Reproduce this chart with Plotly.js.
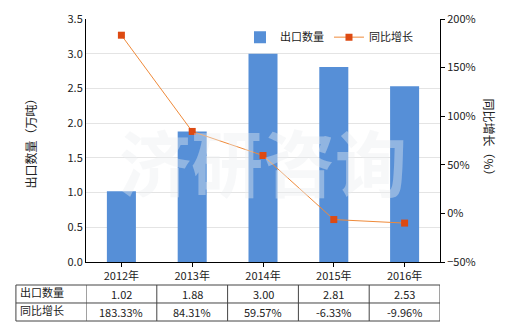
<!DOCTYPE html>
<html><head><meta charset="utf-8">
<script src="https://cdn.plot.ly/plotly-3.0.1.min.js"></script>
<style>html,body{margin:0;padding:0;background:#fff}#c{width:520px;height:330px}</style>
</head><body><div id="c"></div>
<script>
const categories = ['2012年','2013年','2014年','2015年','2016年'];
const exportQty = [1.02, 1.88, 3.00, 2.81, 2.53];
const growth = [183.33, 84.31, 59.57, -6.33, -9.96];
const qtyLabels = ['1.02','1.88','3.00','2.81','2.53'];
const growthLabels = ['183.33%','84.31%','59.57%','-6.33%','-9.96%'];
const rowNames = ['出口数量','同比增长'];

const F = '"Noto Sans CJK SC", "Noto Sans", sans-serif';
const idx = categories.map((c,i)=>i);

const traces = [
  {type:'bar', x:idx, y:exportQty, name:'出口数量', marker:{color:'#568fd7'}, width:0.41, yaxis:'y'},
  {type:'scatter', mode:'lines+markers', x:idx, y:growth, name:'同比增长', yaxis:'y2',
   line:{color:'#ef8a3a', width:1}, marker:{symbol:'square', size:7, color:'#dd4a12'}}
];

const rowY = [-0.0947, -0.1687, -0.2428];
const shapes = [];
const lineStyle = {color:'#444', width:1};
rowY.forEach(y=>shapes.push({type:'line', xref:'paper', yref:'paper', x0:-0.198, x1:1, y0:y, y1:y, line:lineStyle}));
shapes.push({type:'line', xref:'paper', yref:'paper', x0:-0.198, x1:-0.198, y0:rowY[0], y1:rowY[2], line:lineStyle});
for (let i=0;i<=categories.length;i++){
  shapes.push({type:'line', xref:'x', yref:'paper', x0:i-0.5, x1:i-0.5, y0:rowY[0], y1:rowY[2], line:lineStyle});
}

const ann = [];
const tf = {family:F, size:11, color:'#222'};
const base = {showarrow:false, xanchor:'center', yanchor:'middle'};
qtyLabels.forEach((t,i)=>ann.push(Object.assign({}, base, {xref:'x', yref:'paper', x:i, y:(rowY[0]+rowY[1])/2, text:t, font:tf})));
growthLabels.forEach((t,i)=>ann.push(Object.assign({}, base, {xref:'x', yref:'paper', x:i, y:(rowY[1]+rowY[2])/2, text:t, font:tf})));
rowNames.forEach((t,r)=>ann.push(Object.assign({}, base, {xref:'paper', yref:'paper', x:-0.192, xanchor:'left', y:(rowY[r]+rowY[r+1])/2+0.008, text:t, font:tf})));
ann.push(Object.assign({}, base, {xref:'paper', yref:'paper', x:-0.158, y:0.5, text:'出口数量（万吨）', textangle:-90, font:{family:F, size:12, color:'#222'}}));
ann.push(Object.assign({}, base, {xref:'paper', yref:'paper', x:1.141, y:0.5, text:'同比增长（%）', textangle:90, font:{family:F, size:12, color:'#222'}}));
ann.push(Object.assign({}, base, {xref:'paper', yref:'paper', x:0.5, y:0.42, text:'<b>济研咨询</b>', font:{family:F, size:72, color:'rgba(236,238,240,0.4)'}}));

const layout = {
  width:520, height:330,
  margin:{l:86, r:80, t:19, b:68},
  paper_bgcolor:'#fff', plot_bgcolor:'#fff',
  font:{family:F, size:11, color:'#222'},
  showlegend:true,
  legend:{orientation:'h', x:0.435, y:0.985, xanchor:'left', yanchor:'top', bgcolor:'rgba(0,0,0,0)', font:{family:F, size:11, color:'#222'}, itemwidth:30, traceorder:'normal'},
  xaxis:{type:'linear', range:[-0.5,4.5], tickmode:'array', tickvals:idx, ticktext:categories, showgrid:false, zeroline:false,
         showline:true, linecolor:'#000', linewidth:1, ticks:'outside', ticklen:4, tickcolor:'#000', tickfont:{family:F, size:11, color:'#222'}},
  yaxis:{range:[0,3.5], dtick:0.5, tickformat:'.1f', showgrid:true, gridcolor:'#e4e4e4', zeroline:false,
         showline:true, linecolor:'#000', linewidth:1, ticks:'', tickfont:{family:F, size:11, color:'#222'}},
  yaxis2:{range:[-50,200], dtick:50, ticksuffix:'%', overlaying:'y', side:'right', showgrid:false, zeroline:false,
          showline:true, linecolor:'#000', linewidth:1, ticks:'outside', ticklen:4, tickcolor:'#000', tickfont:{family:F, size:11, color:'#222'}},
  shapes:shapes, annotations:ann, bargap:0.6
};
Plotly.newPlot('c', traces, layout, {displayModeBar:false, staticPlot:true});
</script></body></html>
